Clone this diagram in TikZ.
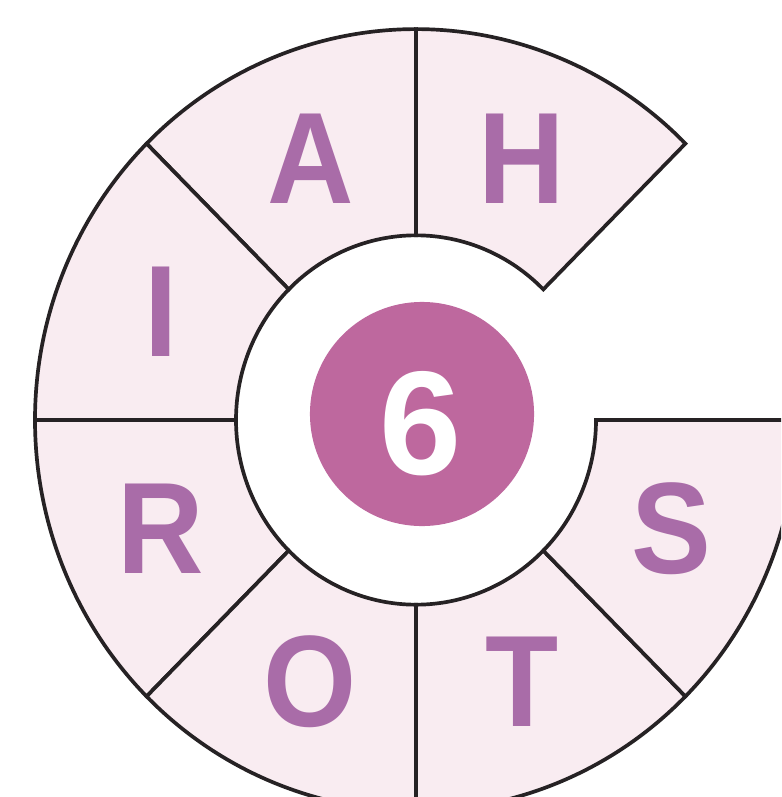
\documentclass[tikz,border=0pt]{standalone}
\usepackage{fontspec}
\setmainfont{Liberation Sans}
\usepackage{tikz}
\usetikzlibrary{positioning}
\definecolor{ringfill}{RGB}{249,236,241}
\definecolor{letterpurple}{RGB}{169,108,168}
\definecolor{hubpink}{RGB}{190,104,158}
\definecolor{darkline}{RGB}{38,34,36}

\begin{document}
\begin{tikzpicture}[
    x=0.01cm, y=-0.01cm,
    sector/.style={fill=ringfill, draw=darkline, line width=1.05pt, line join=miter},
    letter/.style={text=letterpurple, font=\fontsize{37}{37}\selectfont\bfseries, inner sep=0pt},
    hub/.style={circle, fill=hubpink, inner sep=0pt, minimum size=2.24cm},
    hubtext/.style={text=white, font=\fontsize{42}{42}\selectfont\bfseries, inner sep=0pt},
]
\useasboundingbox (0,0) rectangle (781,797);
\clip (0,0) rectangle (781,797);

% === Ring of seven letter sectors ===
\begin{scope}[shift={(416,420)}, x=0.01cm, y=0.01026cm]
\foreach \a/\l in {45/H, 90/A, 135/I, 180/R, 225/O, 270/T, 315/S} {
    \draw[sector] (\a:180) -- (\a:381) arc[start angle=\a, end angle={\a+45}, radius=381]
        -- ({\a+45}:180) arc[start angle={\a+45}, end angle=\a, radius=180] -- cycle;
    \node[letter, xscale=0.92] (sec-\l) at ({\a+22.5}:276) {\l};
}
\end{scope}

% === Central number ===
\node[hub] (hub) at (422,414) {};
\node[hubtext] (six) at (421,424) {6};

\end{tikzpicture}
\end{document}
